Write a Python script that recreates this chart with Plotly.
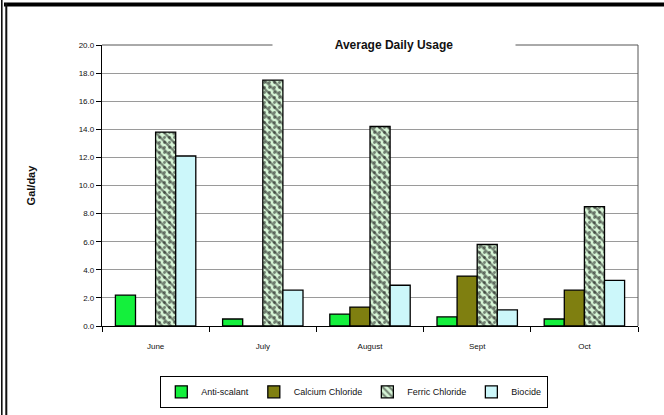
import plotly.graph_objects as go

# Monthly average daily chemical usage (gal/day)
months = ["June", "July", "August", "Sept", "Oct"]
anti_scalant = [2.2, 0.5, 0.85, 0.65, 0.5]
calcium_chloride = [0.0, 0.0, 1.35, 3.55, 2.55]
ferric_chloride = [13.8, 17.5, 14.2, 5.8, 8.5]
biocide = [12.1, 2.55, 2.9, 1.15, 3.25]
y_ticks = [0, 2, 4, 6, 8, 10, 12, 14, 16, 18, 20]

W, H = 664, 415
L, R, T, B = 102, 26, 45, 89
PW, PH = W - L - R, H - T - B


def px_x(px):
    return (px - L) / PW


def px_y(py):
    return (H - B - py) / PH


FONT = "Liberation Sans, Arial, sans-serif"
edge = dict(color="#000000", width=1.3)

fig = go.Figure()
fig.add_trace(go.Bar(name="Anti-scalant", x=months, y=anti_scalant,
                     marker=dict(color="#14f03c", line=edge), offsetgroup="a"))
fig.add_trace(go.Bar(name="Calcium Chloride", x=months, y=calcium_chloride,
                     marker=dict(color="#7f7f10", line=edge), offsetgroup="c"))
fig.add_trace(go.Bar(name="Ferric Chloride", x=months, y=ferric_chloride,
                     marker=dict(color="#d6f5d6", line=edge,
                                 pattern=dict(shape="\\", fgcolor="#111111",
                                              bgcolor="#d6f5d6", size=6,
                                              solidity=0.4)),
                     offsetgroup="f"))
# dotted overlay for the ferric chloride fill
fig.add_trace(go.Bar(name="Ferric Chloride", x=months, y=ferric_chloride,
                     marker=dict(color="rgba(0,0,0,0)", line=dict(width=0),
                                 pattern=dict(shape=".", fgcolor="#111111",
                                              bgcolor="rgba(0,0,0,0)", size=5,
                                              solidity=0.25, fillmode="overlay")),
                     offsetgroup="f", showlegend=False, hoverinfo="skip"))
fig.add_trace(go.Bar(name="Biocide", x=months, y=biocide,
                     marker=dict(color="#ccf7fa", line=edge), offsetgroup="b"))

shapes = [
    # plot frame top and right
    dict(type="line", xref="paper", yref="paper", x0=0, x1=1, y0=1, y1=1,
         line=dict(color="#555555", width=1)),
    dict(type="line", xref="paper", yref="paper", x0=1, x1=1, y0=0, y1=1,
         line=dict(color="#555555", width=1)),
    # page border: heavy top rule and double rule at left
    dict(type="line", xref="paper", yref="paper", x0=px_x(4), x1=px_x(664),
         y0=px_y(4.5), y1=px_y(4.5), line=dict(color="#000000", width=4)),
    dict(type="line", xref="paper", yref="paper", x0=px_x(1.8), x1=px_x(1.8),
         y0=px_y(0), y1=px_y(415), line=dict(color="#111111", width=1.6)),
    dict(type="line", xref="paper", yref="paper", x0=px_x(6.3), x1=px_x(6.3),
         y0=px_y(3), y1=px_y(415), line=dict(color="#111111", width=2)),
]

fig.update_layout(
    width=W, height=H,
    margin=dict(l=L, r=R, t=T, b=B, pad=0, autoexpand=False),
    paper_bgcolor="white", plot_bgcolor="white",
    barmode="group", bargap=0.25, bargroupgap=0,
    font=dict(family=FONT, size=8, color="#111111"),
    showlegend=True,
    legend=dict(orientation="h", xref="container", yref="container",
                x=354 / W, xanchor="center",
                y=(H - 392) / H, yanchor="middle",
                bordercolor="#000000", borderwidth=1.3,
                font=dict(family=FONT, size=9, color="#111111"),
                itemwidth=30, tracegroupgap=0, bgcolor="white"),
    shapes=shapes,
    annotations=[dict(text="<b>Average Daily Usage</b>", xref="paper", yref="paper",
                      x=px_x(394), y=1, xanchor="center", yanchor="middle",
                      showarrow=False, bgcolor="white", width=240, height=16,
                      font=dict(family=FONT, size=12, color="#111111"))],
)

fig.update_xaxes(
    type="category", showline=True, linecolor="#000000", linewidth=1.3,
    ticks="outside", tickson="boundaries", ticklen=5, tickcolor="#000000",
    ticklabelstandoff=12, automargin=False,
    tickfont=dict(family=FONT, size=8, color="#111111"), showgrid=False,
)
fig.update_yaxes(
    range=[0, 20], tickvals=y_ticks, ticktext=[f"{v:.1f}" for v in y_ticks],
    showline=True, linecolor="#000000", linewidth=1.3,
    ticks="outside", ticklen=5, tickcolor="#000000", automargin=False,
    tickfont=dict(family=FONT, size=8, color="#111111"),
    showgrid=True, gridcolor="#9a9a9a", gridwidth=1, zeroline=False,
    title=dict(text="<b>Gal/day</b>", standoff=40,
               font=dict(family=FONT, size=11, color="#111111")),
)

fig.write_html("out.html")
